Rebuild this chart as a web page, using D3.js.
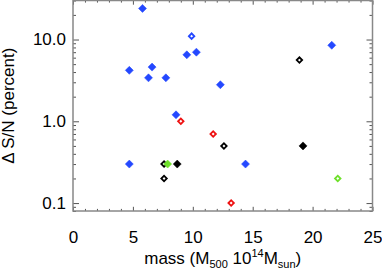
<!DOCTYPE html>
<html>
<head>
<meta charset="utf-8">
<script src="https://cdn.jsdelivr.net/npm/d3@7.9.0/dist/d3.min.js"></script>
<style>
  body { margin: 0; background: #fff; }
  text { font-family: "Liberation Sans", Arial, sans-serif; }
</style>
</head>
<body>
<svg id="chart" width="382" height="274"></svg>
<script>
// values (mass in 1e14 Msun, delta S/N in percent)
const blueFilledMass = [5.8, 9.5, 10.3, 4.7, 6.6, 6.3, 7.75, 12.3, 21.6, 8.6, 4.7, 14.4];
const blueFilledDsn  = [24, 6.5, 7.0, 4.2, 4.6, 3.4, 3.4, 2.8, 8.5, 1.2, 0.3, 0.3];
const blueOpenMass = [9.9];
const blueOpenDsn  = [11];
const redOpenMass = [9.0, 11.7, 13.2];
const redOpenDsn  = [1.0, 0.7, 0.1];
const blackOpenMass = [18.9, 12.6, 7.6, 7.6];
const blackOpenDsn  = [5.6, 0.5, 0.2, 0.3];
const blackFilledMass = [8.7, 19.2];
const blackFilledDsn  = [0.3, 0.5];
const greenFilledMass = [7.9];
const greenFilledDsn  = [0.3];
const greenOpenMass = [22.1];
const greenOpenDsn  = [0.2];

const xMajorTicks = [0, 5, 10, 15, 20, 25];
const yMajorTicks = [0.1, 1, 10];
const yTickLabels = ["0.1", "1.0", "10.0"];

// draw order matters: green sits on top of the black open diamond
const series = [
  { mass: blueFilledMass, dsn: blueFilledDsn, color: "#2448ff", filled: true },
  { mass: blueOpenMass, dsn: blueOpenDsn, color: "#2448ff", filled: false },
  { mass: redOpenMass, dsn: redOpenDsn, color: "#ee1111", filled: false },
  { mass: blackOpenMass, dsn: blackOpenDsn, color: "#000", filled: false },
  { mass: blackFilledMass, dsn: blackFilledDsn, color: "#000", filled: true },
  { mass: greenFilledMass, dsn: greenFilledDsn, color: "#6ee02a", filled: true },
  { mass: greenOpenMass, dsn: greenOpenDsn, color: "#6ee02a", filled: false }
];

const svg = d3.select("#chart");
const pLeft = 73, pRight = 372.5, pTop = 0.5, pBottom = 211;

const x = d3.scaleLinear().domain([0, 25]).range([pLeft, pRight]);
const y = d3.scaleLog().domain([0.08, 30]).range([pBottom, pTop]);

// minor ticks
const xMinor = d3.range(0, 26, 1).filter(v => v % 5 !== 0);
const yMinor = [];
[0.01, 0.1, 1, 10].forEach(dec => {
  for (let k = 2; k <= 9; k++) {
    const v = dec * k;
    if (v >= 0.08 && v <= 30) yMinor.push(v);
  }
});

function styleAxis(g) {
  g.select(".domain").remove();
  g.selectAll(".tick line").attr("stroke", "#555");
  g.selectAll(".tick text").attr("fill", "#000").attr("font-size", 17);
}

// bottom
svg.append("g").attr("transform", `translate(0,${pBottom})`)
  .call(d3.axisBottom(x).tickValues(xMajorTicks).tickFormat(d3.format("d"))
    .tickSizeInner(-4.2).tickSizeOuter(0).tickPadding(20))
  .call(styleAxis);
svg.append("g").attr("transform", `translate(0,${pBottom})`)
  .call(d3.axisBottom(x).tickValues(xMinor).tickFormat("").tickSizeInner(-2.1).tickSizeOuter(0))
  .call(styleAxis);
// top
svg.append("g").attr("transform", `translate(0,${pTop})`)
  .call(d3.axisTop(x).tickValues(xMajorTicks).tickFormat("").tickSizeInner(-4.2).tickSizeOuter(0))
  .call(styleAxis);
svg.append("g").attr("transform", `translate(0,${pTop})`)
  .call(d3.axisTop(x).tickValues(xMinor).tickFormat("").tickSizeInner(-2.1).tickSizeOuter(0))
  .call(styleAxis);
// left
svg.append("g").attr("transform", `translate(${pLeft},0)`)
  .call(d3.axisLeft(y).tickValues(yMajorTicks).tickFormat((d, i) => yTickLabels[i])
    .tickSizeInner(-6).tickSizeOuter(0).tickPadding(7))
  .call(styleAxis);
svg.append("g").attr("transform", `translate(${pLeft},0)`)
  .call(d3.axisLeft(y).tickValues(yMinor).tickFormat("").tickSizeInner(-3).tickSizeOuter(0))
  .call(styleAxis);
// right
svg.append("g").attr("transform", `translate(${pRight},0)`)
  .call(d3.axisRight(y).tickValues(yMajorTicks).tickFormat("").tickSizeInner(-6).tickSizeOuter(0))
  .call(styleAxis);
svg.append("g").attr("transform", `translate(${pRight},0)`)
  .call(d3.axisRight(y).tickValues(yMinor).tickFormat("").tickSizeInner(-3).tickSizeOuter(0))
  .call(styleAxis);

// frame
svg.append("rect")
  .attr("x", pLeft).attr("y", pTop)
  .attr("width", pRight - pLeft).attr("height", pBottom - pTop)
  .attr("fill", "none").attr("stroke", "#888").attr("stroke-width", 1.5);

// markers: squares turned 45 degrees
const filledSym = d3.symbol().type(d3.symbolSquare).size(32);
const openSym = d3.symbol().type(d3.symbolSquare).size(15);

series.forEach(s => {
  svg.append("g").selectAll("path")
    .data(s.mass.map((m, i) => [m, s.dsn[i]]))
    .join("path")
    .attr("transform", d => `translate(${x(d[0])},${y(d[1])}) rotate(45)`)
    .attr("d", s.filled ? filledSym : openSym)
    .attr("fill", s.filled ? s.color : "#fff")
    .attr("stroke", s.color)
    .attr("stroke-width", s.filled ? 0.5 : 1.8);
});

// axis titles
const xt = svg.append("text")
  .attr("x", (pLeft + pRight) / 2).attr("y", 264)
  .attr("text-anchor", "middle").attr("font-size", 17).attr("fill", "#000");
xt.append("tspan").text("mass (M");
xt.append("tspan").attr("font-size", 11).attr("dy", 4).text("500");
xt.append("tspan").attr("dy", -4).text(" 10");
xt.append("tspan").attr("font-size", 11).attr("dy", -7).text("14");
xt.append("tspan").attr("dy", 7).text("M");
xt.append("tspan").attr("font-size", 11).attr("dy", 4).text("sun");
xt.append("tspan").attr("dy", -4).text(")");

svg.append("text")
  .attr("transform", `translate(14,${(pTop + pBottom) / 2}) rotate(-90)`)
  .attr("text-anchor", "middle").attr("font-size", 17).attr("fill", "#000")
  .text("Δ S/N (percent)");
</script>
</body>
</html>
